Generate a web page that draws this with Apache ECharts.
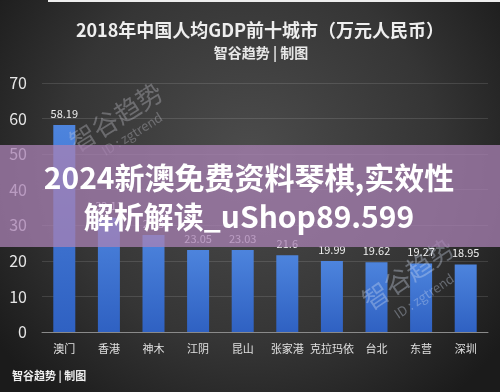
<!DOCTYPE html>
<html>
<head>
<meta charset="utf-8">
<script src="https://cdn.jsdelivr.net/npm/echarts@6/dist/echarts.min.js"></script>
<style>html,body{margin:0;padding:0;background:#2a2a2a}#c{width:500px;height:392px}</style>
</head>
<body>
<div id="c"></div>
<script>
const categories = ['澳门','香港','神木','江阴','昆山','张家港','克拉玛依','台北','东营','深圳'];
const values = [58.19, 32.11, 27.3, 23.05, 23.03, 21.6, 19.99, 19.62, 19.27, 18.95];
const yTicks = [0, 10, 20, 30, 40, 50, 60, 70];
const titleText = '2018年中国人均GDP前十城市（万元人民币）';
const subText = '智谷趋势 | 制图';
const footText = '智谷趋势 | 制图';
const bannerLines = ['2024新澳免费资料琴棋,实效性', '解析解读_uShop89.599'];
const wmMain = '智谷趋势';
const wmId = 'ID : zgtrend';

const F = '"Noto Sans CJK SC","Noto Sans",sans-serif';
const chart = echarts.init(document.getElementById('c'), null, {renderer:'canvas'});
const deg = Math.PI/180;
chart.setOption({
  animation:false,
  backgroundColor:{type:'radial',x:0.5,y:0.4,r:0.8,colorStops:[{offset:0,color:'#4c4c4c'},{offset:0.6,color:'#353535'},{offset:1,color:'#1b1b1b'}]},
  grid:{left:42,right:12,top:83,bottom:60},
  xAxis:{type:'category',data:categories,
    axisLine:{lineStyle:{color:'#8a8a8a',width:1}},axisTick:{show:false},
    axisLabel:{interval:0,color:'#e0e0e0',fontSize:11,margin:11,fontFamily:F}},
  yAxis:{type:'value',min:yTicks[0],max:yTicks[yTicks.length-1],interval:10,
    axisLine:{show:false},axisTick:{show:false},
    axisLabel:{color:'#e6e6e6',fontSize:16,margin:15,fontFamily:F},
    splitLine:{lineStyle:{color:'rgba(255,255,255,0.12)',width:1}}},
  series:[{type:'bar',data:values,barWidth:22,
    itemStyle:{color:{type:'linear',x:0,y:0,x2:0,y2:1,colorStops:[{offset:0,color:'#4d84dd'},{offset:1,color:'#2f61c2'}]}},
    label:{show:true,position:'top',distance:6,color:'#eeeeee',fontSize:11,fontFamily:F}}],
  graphic:{elements:[
    {type:'rect',shape:{x:48,y:0,width:452,height:2},style:{fill:'#eeeeee'},z:5},
    {type:'text',x:260,y:30,style:{text:titleText,fill:'#eeeeee',font:'bold 18px '+F,align:'center',verticalAlign:'middle'},z:5},
    {type:'text',x:261,y:53,style:{text:subText,fill:'#e8e8e8',font:'bold 14px '+F,align:'center',verticalAlign:'middle'},z:5},
    {type:'text',x:12,y:376,style:{text:footText,fill:'#eeeeee',font:'bold 11px '+F,align:'left',verticalAlign:'middle'},z:5},
    {type:'text',x:116,y:117,rotation:32*deg,style:{text:wmMain,fill:'rgba(210,210,220,0.32)',font:'26px '+F,align:'center',verticalAlign:'middle'},z:50},
    {type:'text',x:132,y:134,rotation:32*deg,style:{text:wmId,fill:'rgba(210,210,220,0.32)',font:'13px '+F,align:'center',verticalAlign:'middle'},z:50},
    {type:'text',x:408,y:274,rotation:34*deg,style:{text:wmMain,fill:'rgba(210,220,240,0.35)',font:'26px '+F,align:'center',verticalAlign:'middle'},z:50},
    {type:'text',x:424,y:296,rotation:34*deg,style:{text:wmId,fill:'rgba(210,220,240,0.35)',font:'13px '+F,align:'center',verticalAlign:'middle'},z:50},
    {type:'rect',shape:{x:0,y:145,width:500,height:102},style:{fill:'rgba(170,130,180,0.75)'},z:100},
    {type:'text',x:249,y:178,style:{text:bannerLines[0],fill:'#ffffff',font:'bold 30px '+F,align:'center',verticalAlign:'middle'},z:101},
    {type:'text',x:249,y:217,style:{text:bannerLines[1],fill:'#ffffff',font:'bold 30px '+F,align:'center',verticalAlign:'middle'},z:101}
  ]}
});
</script>
</body>
</html>
